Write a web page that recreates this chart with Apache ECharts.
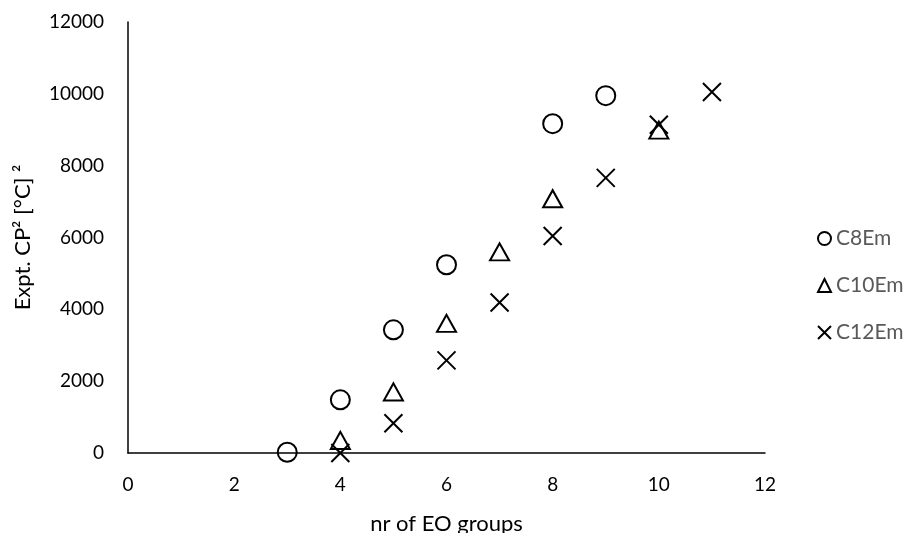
<!DOCTYPE html>
<html>
<head>
<meta charset="utf-8">
<script src="https://cdn.jsdelivr.net/npm/echarts@6/dist/echarts.min.js"></script>
<style>
  html, body { margin: 0; padding: 0; background: #fff; }
  #chart { width: 906px; height: 533px; }
</style>
</head>
<body>
<div id="chart"></div>
<script>
// Number of EO groups and squared cloud points for each surfactant family
const c8X = [3, 4, 5, 6, 8, 9];
const c8Y = [20, 1480, 3430, 5240, 9170, 9950];
const c10X = [4, 5, 6, 7, 8, 10];
const c10Y = [350, 1700, 3610, 5600, 7080, 8990];
const c12X = [4, 5, 6, 7, 8, 9, 10, 11];
const c12Y = [0, 830, 2580, 4190, 6040, 7660, 9140, 10050];

const seriesNames = ['C8Em', 'C10Em', 'C12Em'];
const xTicks = [0, 2, 4, 6, 8, 10, 12];
const yTicks = [0, 2000, 4000, 6000, 8000, 10000, 12000];

const FONT = 'Lato, "Open Sans", sans-serif';
const CROSS = 'path://M0,0L10,10M10,0L0,10';

const pairs = (xs, ys) => xs.map((x, i) => [x, ys[i]]);

const markerStyle = { color: 'rgba(0,0,0,0)', borderColor: '#000', borderWidth: 2, opacity: 1 };

const chart = echarts.init(document.getElementById('chart'), null, { renderer: 'canvas' });
chart.setOption({
  animation: false,
  backgroundColor: '#fff',
  grid: {
    left: 128, right: 141, top: 22, bottom: 80,
    containLabel: false, outerBoundsMode: 'none'
  },
  legend: {
    orient: 'vertical',
    left: 812,
    top: 223,
    itemGap: 26,
    itemWidth: 13,
    itemHeight: 13,
    itemStyle: { color: 'rgba(0,0,0,0)', borderColor: '#000', borderWidth: 2 },
    textStyle: { color: '#595959', fontSize: 21, fontFamily: FONT, padding: [0, 0, 0, 0] },
    data: [
      { name: seriesNames[0], icon: 'circle' },
      { name: seriesNames[1], icon: 'triangle' },
      { name: seriesNames[2], icon: CROSS }
    ]
  },
  xAxis: {
    type: 'value',
    min: xTicks[0],
    max: xTicks[xTicks.length - 1],
    interval: 2,
    name: 'nr of EO groups',
    nameLocation: 'middle',
    nameGap: 60,
    nameTextStyle: { color: '#000', fontSize: 22, fontFamily: FONT },
    axisLine: { lineStyle: { color: '#000', width: 1.5 } },
    axisTick: { show: false },
    splitLine: { show: false },
    axisLabel: { color: '#000', fontSize: 19, fontFamily: FONT, margin: 22 }
  },
  yAxis: {
    type: 'value',
    min: yTicks[0],
    max: yTicks[yTicks.length - 1],
    interval: 2000,
    name: 'Expt. CP\u00B2 [°C] \u00B2',
    nameLocation: 'middle',
    nameGap: 94,
    nameTextStyle: { color: '#000', fontSize: 22, fontFamily: FONT },
    axisLine: { show: true, lineStyle: { color: '#000', width: 1.5 } },
    axisTick: { show: false },
    splitLine: { show: false },
    axisLabel: {
      color: '#000', fontSize: 19, fontFamily: FONT, margin: 24,
      formatter: (v) => String(v)
    }
  },
  series: [
    {
      name: seriesNames[0], type: 'scatter', symbol: 'circle', symbolSize: 19,
      itemStyle: markerStyle, data: pairs(c8X, c8Y)
    },
    {
      name: seriesNames[1], type: 'scatter', symbol: 'triangle', symbolSize: [19, 17],
      itemStyle: markerStyle, data: pairs(c10X, c10Y)
    },
    {
      name: seriesNames[2], type: 'scatter', symbol: CROSS, symbolSize: 18,
      itemStyle: markerStyle, data: pairs(c12X, c12Y)
    }
  ]
});
</script>
</body>
</html>
